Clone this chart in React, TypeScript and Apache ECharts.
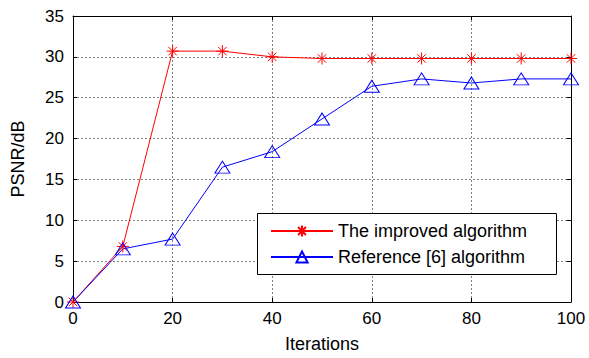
import React, { useEffect, useRef } from "react";
import * as echarts from "echarts";

const iterations = [0, 10, 20, 30, 40, 50, 60, 70, 80, 90, 100];
const improved = [0, 6.8, 30.7, 30.7, 30.0, 29.8, 29.8, 29.8, 29.8, 29.8, 29.8];
const reference6 = [0, 6.5, 7.7, 16.5, 18.4, 22.4, 26.4, 27.3, 26.8, 27.3, 27.3];
const seriesNames = ["The improved algorithm", "Reference [6] algorithm"];

const FONT = "'Liberation Sans', Arial, sans-serif";
const ASTERISK =
  "path://M0,-6L0,6M-6,0L6,0M-4.2,-4.2L4.2,4.2M-4.2,4.2L4.2,-4.2";

export default function App() {
  const ref = useRef<HTMLDivElement>(null);
  useEffect(() => {
    if (!ref.current) return;
    const chart = echarts.init(ref.current, undefined, { renderer: "svg" });
    const tickStyle = { show: true, inside: true, length: 4, lineStyle: { color: "#000", width: 1 } };
    const axisLine = { show: true, onZero: false, lineStyle: { color: "#000", width: 1 } };
    chart.setOption({
      animation: false,
      backgroundColor: "#fff",
      grid: { left: 73, right: 18, top: 16, bottom: 51 },
      xAxis: [
        {
          type: "value",
          min: 0,
          max: 100,
          interval: 20,
          name: "Iterations",
          nameLocation: "middle",
          nameGap: 33,
          nameTextStyle: { fontFamily: FONT, fontSize: 18, color: "#000" },
          axisLine,
          axisTick: tickStyle,
          axisLabel: { fontFamily: FONT, fontSize: 17, color: "#000", margin: 8 },
          splitLine: { show: true, lineStyle: { color: "#808080", type: [2, 2], width: 1 } },
        },
        {
          type: "value",
          position: "top",
          min: 0,
          max: 100,
          interval: 20,
          axisLine,
          axisTick: tickStyle,
          axisLabel: { show: false },
          splitLine: { show: false },
        },
      ],
      yAxis: [
        {
          type: "value",
          min: 0,
          max: 35,
          interval: 5,
          name: "PSNR/dB",
          nameLocation: "middle",
          nameGap: 46,
          nameTextStyle: { fontFamily: FONT, fontSize: 18, color: "#000" },
          axisLine,
          axisTick: tickStyle,
          axisLabel: { fontFamily: FONT, fontSize: 17, color: "#000", margin: 9 },
          splitLine: { show: true, lineStyle: { color: "#808080", type: [2, 2], width: 1 } },
        },
        {
          type: "value",
          position: "right",
          min: 0,
          max: 35,
          interval: 5,
          axisLine,
          axisTick: tickStyle,
          axisLabel: { show: false },
          splitLine: { show: false },
        },
      ],
      legend: {
        left: 270,
        top: 222,
        padding: 0,
        orient: "vertical",
        itemWidth: 62,
        itemHeight: 14,
        itemGap: 8,
        z: 10,
        textStyle: { fontFamily: FONT, fontSize: 18, color: "#000" },
        data: seriesNames,
      },
      graphic: [
        {
          type: "rect",
          z: 8,
          shape: { x: 257.5, y: 213.5, width: 299, height: 61 },
          style: { fill: "#fff", stroke: "#000", lineWidth: 1 },
        },
      ],
      series: [
        {
          name: seriesNames[0],
          type: "line",
          data: iterations.map((x, i) => [x, improved[i]]),
          symbol: ASTERISK,
          symbolSize: 12,
          lineStyle: { color: "#ff0000", width: 1 },
          itemStyle: { color: "none", borderColor: "#ff0000", borderWidth: 1 },
          z: 3,
        },
        {
          name: seriesNames[1],
          type: "line",
          data: iterations.map((x, i) => [x, reference6[i]]),
          symbol: "triangle",
          symbolSize: [15, 12],
          lineStyle: { color: "#0000ff", width: 1 },
          itemStyle: { color: "none", borderColor: "#0000ff", borderWidth: 1 },
          z: 3,
        },
      ],
    });
    return () => chart.dispose();
  }, []);
  return <div ref={ref} style={{ width: 589, height: 358, position: "absolute", left: 0, top: 0 }} />;
}
